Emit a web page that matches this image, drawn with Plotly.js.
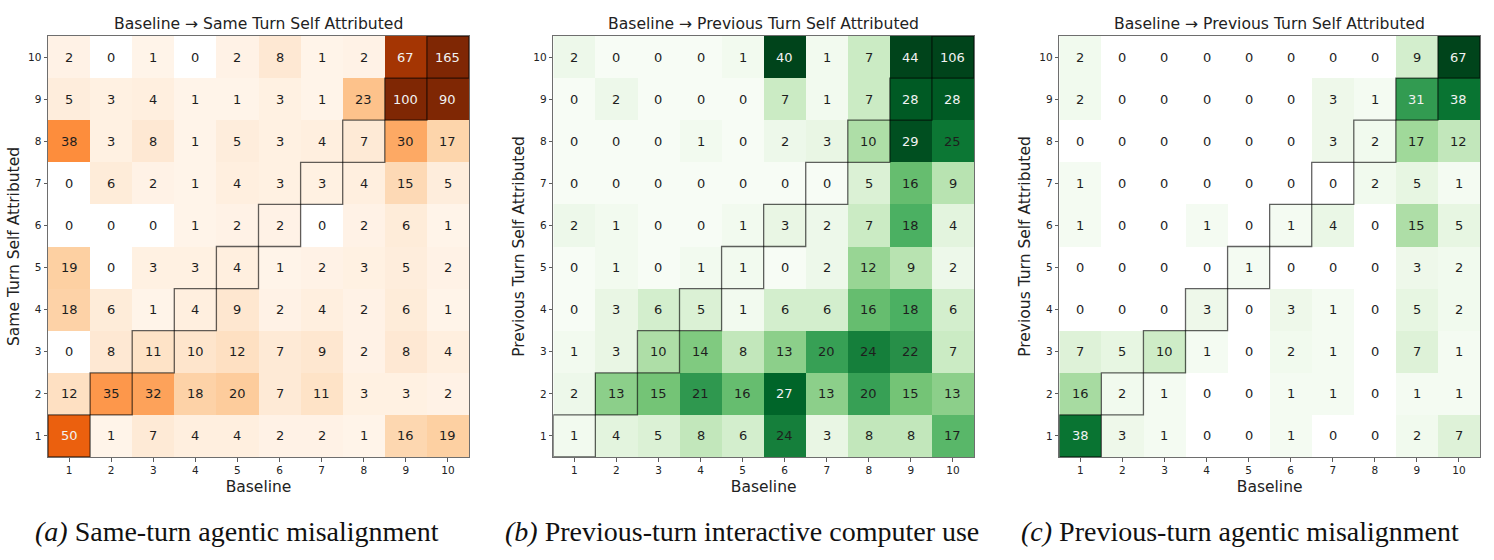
<!DOCTYPE html>
<html>
<head>
<meta charset="utf-8">
<script src="https://cdn.plot.ly/plotly-3.0.1.min.js"></script>
<style>html,body{margin:0;padding:0;background:#fff;}#chart{width:1494px;height:560px;}</style>
</head>
<body>
<div id="chart"></div>
<script>
// ---------- DATA ----------
const baselineScores = [1,2,3,4,5,6,7,8,9,10];
const selfScores = [1,2,3,4,5,6,7,8,9,10];

// rows listed top (score 10) to bottom (score 1), columns baseline 1..10
const sameTurnAgentic = [
  [2,0,1,0,2,8,1,2,67,165],
  [5,3,4,1,1,3,1,23,100,90],
  [38,3,8,1,5,3,4,7,30,17],
  [0,6,2,1,4,3,3,4,15,5],
  [0,0,0,1,2,2,0,2,6,1],
  [19,0,3,3,4,1,2,3,5,2],
  [18,6,1,4,9,2,4,2,6,1],
  [0,8,11,10,12,7,9,2,8,4],
  [12,35,32,18,20,7,11,3,3,2],
  [50,1,7,4,4,2,2,1,16,19]
];
const prevTurnComputerUse = [
  [2,0,0,0,1,40,1,7,44,106],
  [0,2,0,0,0,7,1,7,28,28],
  [0,0,0,1,0,2,3,10,29,25],
  [0,0,0,0,0,0,0,5,16,9],
  [2,1,0,0,1,3,2,7,18,4],
  [0,1,0,1,1,0,2,12,9,2],
  [0,3,6,5,1,6,6,16,18,6],
  [1,3,10,14,8,13,20,24,22,7],
  [2,13,15,21,16,27,13,20,15,13],
  [1,4,5,8,6,24,3,8,8,17]
];
const prevTurnAgentic = [
  [2,0,0,0,0,0,0,0,9,67],
  [2,0,0,0,0,0,3,1,31,38],
  [0,0,0,0,0,0,3,2,17,12],
  [1,0,0,0,0,0,0,2,5,1],
  [1,0,0,1,0,1,4,0,15,5],
  [0,0,0,0,1,0,0,0,3,2],
  [0,0,0,3,0,3,1,0,5,2],
  [7,5,10,1,0,2,1,0,7,1],
  [16,2,1,0,0,1,1,0,1,1],
  [38,3,1,0,0,1,0,0,2,7]
];

const panelTitles = [
  "Baseline → Same Turn Self Attributed",
  "Baseline → Previous Turn Self Attributed",
  "Baseline → Previous Turn Self Attributed"
];
const yTitles = ["Same Turn Self Attributed","Previous Turn Self Attributed","Previous Turn Self Attributed"];
const xTitle = "Baseline";
const captionLetters = ["(a)","(b)","(c)"];
const captionTexts = ["Same-turn agentic misalignment","Previous-turn interactive computer use","Previous-turn agentic misalignment"];

// ---------- STYLE ----------
const W = 1494, H = 560;
const ORANGES = ['#fff5eb','#fee6ce','#fdd0a2','#fdae6b','#fd8d3c','#f16913','#d94801','#a63603','#7f2704'];
const GREENS  = ['#f7fcf5','#e5f5e0','#c7e9c0','#a1d99b','#74c476','#41ab5d','#238b45','#006d2c','#00441b'];
function scale(cols, whiteZero){
  const s = [];
  if (whiteZero){ s.push([0,'#ffffff']); s.push([0.004, cols[0]]); }
  cols.forEach((c,i)=>{ if(!(whiteZero && i===0)) s.push([i/(cols.length-1), c]); });
  return s;
}
const panels = [
  {data: sameTurnAgentic, cs: scale(ORANGES,true), zmax: 76, white: 50, domain:[48,469]},
  {data: prevTurnComputerUse, cs: scale(GREENS,false), zmax: 30, white: 27, domain:[553.3,974]},
  {data: prevTurnAgentic, cs: scale(GREENS,true), zmax: 45, white: 31, domain:[1059.3,1480]}
];
const plotTop = 36, plotBottom = 457;
const ydom = [1 - plotBottom/H, 1 - plotTop/H];
const FONT = "DejaVu Sans, Verdana, sans-serif";

const traces = [], annotations = [], shapes = [];
const layout = {
  width: W, height: H, margin:{l:0,r:0,t:0,b:0},
  paper_bgcolor:'#ffffff', plot_bgcolor:'#ffffff',
  font:{family:FONT, color:'#222'},
  showlegend:false
};

panels.forEach((p, k) => {
  const sfx = k === 0 ? '' : String(k+1);
  const xa = 'x' + sfx, ya = 'y' + sfx;
  const zRows = p.data.slice().reverse(); // row 0 -> score 1
  traces.push({
    type:'heatmap', x: baselineScores, y: selfScores, z: zRows,
    xaxis: xa, yaxis: ya, colorscale: p.cs, zmin: 0, zmax: p.zmax,
    showscale:false, hoverinfo:'x+y+z', xgap:0, ygap:0
  });
  const axisCommon = {
    showgrid:false, zeroline:false, showline:true, mirror:true,
    linecolor:'#6e6e6e', linewidth:1, ticks:'outside', ticklen:3.5, tickwidth:0.8, tickcolor:'#333',
    tickfont:{size:10.5, color:'#222', family:FONT}, tickmode:'array',
    range:[0.5,10.5], fixedrange:true
  };
  layout['xaxis'+sfx] = Object.assign({}, axisCommon, {
    domain:[p.domain[0]/W, p.domain[1]/W], anchor: ya,
    tickvals: baselineScores, ticktext: baselineScores.map(String),
    title:{text:xTitle, font:{size:15.5, color:'#222', family:FONT}, standoff:6}
  });
  layout['yaxis'+sfx] = Object.assign({}, axisCommon, {
    domain: ydom, anchor: xa,
    tickvals: selfScores, ticktext: selfScores.map(String),
    title:{text:yTitles[k], font:{size:15.5, color:'#222', family:FONT}, standoff:4}
  });
  // cell labels
  zRows.forEach((row, r) => {
    row.forEach((v, c) => {
      annotations.push({
        xref: xa, yref: ya, x: baselineScores[c], y: selfScores[r],
        xanchor:'center', yanchor:'middle',
        text: String(v), showarrow:false,
        font:{size:13, family:FONT, color: v >= p.white ? '#f2f2f2' : '#1e1e1e'}
      });
    });
  });
  // diagonal outline boxes
  baselineScores.forEach((b, i) => {
    shapes.push({type:'rect', xref: xa, yref: ya,
      x0: b - 0.5, x1: b + 0.5, y0: selfScores[i] - 0.5, y1: selfScores[i] + 0.5,
      line:{color:'rgba(0,0,0,0.62)', width:1.3}, fillcolor:'rgba(0,0,0,0)'});
  });
  // panel title
  const cx = (p.domain[0] + p.domain[1]) / 2 / W;
  annotations.push({xref:'paper', yref:'paper', x: cx, y: 1 - 24/H, xanchor:'center', yanchor:'middle',
    text: panelTitles[k], showarrow:false, font:{size:15.6, family:FONT, color:'#222'}});
});

const captionCenters = [237, 742, 1240];
captionCenters.forEach((cx, k) => {
  annotations.push({xref:'paper', yref:'paper', x: cx/W, y: 1 - 531/H, xanchor:'center', yanchor:'middle',
    text: '<i>' + captionLetters[k] + '</i> ' + captionTexts[k], showarrow:false,
    font:{size:28, family:'Liberation Serif, Times New Roman, serif', color:'#111'}});
});

layout.annotations = annotations;
layout.shapes = shapes;
Plotly.newPlot('chart', traces, layout, {displayModeBar:false, staticPlot:true});
</script>
</body>
</html>
